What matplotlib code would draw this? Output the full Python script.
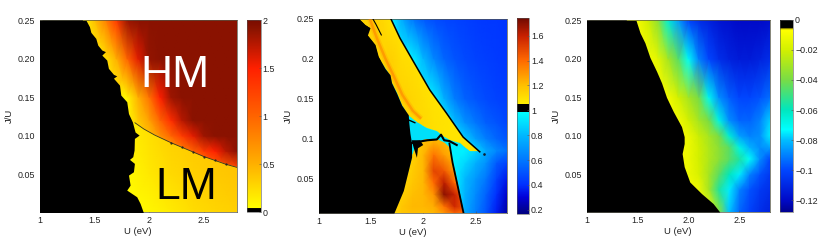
import numpy as np
import matplotlib
matplotlib.use('Agg')
import matplotlib.pyplot as plt
from matplotlib.cm import ScalarMappable
from matplotlib.colors import LinearSegmentedColormap, Normalize
from matplotlib.patches import Polygon

plt.rcParams['font.family'] = ['Liberation Sans', 'DejaVu Sans']
plt.rcParams['font.size'] = 6.4

W, H = 830, 240

# left panel: moment map
u1 = [1.4, 1.5, 1.6, 1.7, 1.8, 1.9, 2.0, 2.1, 2.2, 2.3, 2.4, 2.5, 2.6, 2.7, 2.8]
j1 = [0.0, 0.06, 0.08, 0.10, 0.12, 0.15, 0.20, 0.25]
hm1 = [
    [.1, .1, .1, .1, .1, .2, .3, .4, .5, .6, .7, .8, .9, 1.0, 1.1],
    [.1, .1, .1, .1, .1, .2, .3, .4, .5, .6, .7, .8, 1.0, 1.1, 1.25],
    [.1, .1, .1, .1, .1, .2, .3, .4, .5, .8, 1.0, 1.3, 1.5, 1.75, 1.92],
    [.1, .1, .1, .1, .1, .3, .4, .7, 1.0, 1.3, 1.6, 1.85, 1.92, 1.92, 1.92],
    [.1, .1, .1, .1, .1, .35, .6, 1.0, 1.4, 1.75, 1.92, 1.92, 1.92, 1.92, 1.92],
    [.1, .1, .1, .1, .1, .5, .9, 1.5, 1.85, 1.92, 1.92, 1.92, 1.92, 1.92, 1.92],
    [.1, .1, .2, .5, 1.0, 1.6, 1.88, 1.92, 1.92, 1.92, 1.92, 1.92, 1.92, 1.92, 1.92],
    [.1, .4, .8, 1.3, 1.85, 1.92, 1.92, 1.92, 1.92, 1.92, 1.92, 1.92, 1.92, 1.92, 1.92],
]
u1_lm = [1.8, 2.0, 2.2, 2.4, 2.6, 2.8]
j1_lm = [0.0, 0.05, 0.12]
lm1 = [
    [.06, .08, .16, .24, .28, .31],
    [.08, .17, .26, .31, .35, .38],
    [.12, .24, .33, .37, .39, .4],
]
line1_u = [1.87, 1.95, 2.05, 2.2, 2.3, 2.4, 2.5, 2.6, 2.7, 2.8]
line1_j = [.117, .109, .101, .091, .085, .079, .073, .068, .063, .059]
edge1_u = [1.425, 1.455, 1.468, 1.513, 1.531, 1.568, 1.601, 1.568, 1.613, 1.628, 1.674, 1.704, 1.674,
           1.729, 1.741, 1.795, 1.811, 1.847, 1.871, 1.908, 1.865, 1.862, 1.850, 1.820, 1.865, 1.856,
           1.811, 1.826, 1.795, 1.886, 1.917, 1.947]
edge1_j = [.25, .242, .2346, .2268, .218, .2116, .2095, .205, .1986, .1878, .18, .178, .175,
           .166, .153, .1444, .129, .118, .105, .101, .0967, .0815, .0729, .0694, .0642, .0533,
           .049, .036, .0295, .0208, .0121, .0]

# middle panel: ratio map
u2 = [1.6, 1.7, 1.8, 1.9, 2.0, 2.1, 2.2, 2.3, 2.4, 2.5, 2.6, 2.7, 2.8]
j2 = [.0068, .03, .05, .07, .085, .1, .12, .15, .2, .25]
blue2 = [
    [.95, .95, .95, .95, .95, .95, .95, .95, .75, .62, .5, .36, .22],
    [.95, .95, .95, .95, .95, .95, .95, .95, .78, .66, .54, .4, .28],
    [.95, .95, .95, .95, .95, .95, .95, .95, .8, .7, .6, .45, .35],
    [.95, .95, .95, .95, .95, .95, .95, .95, .88, .78, .68, .52, .45],
    [.95, .95, .95, .95, .95, .95, .95, .95, .95, .88, .75, .65, .58],
    [.95, .95, .95, .95, .95, .95, .95, .95, .85, .72, .62, .55, .5],
    [.95, .95, .95, .95, .95, .95, .95, .82, .68, .6, .53, .5, .46],
    [.95, .95, .95, .95, .95, .95, .78, .62, .54, .5, .47, .45, .44],
    [.95, .95, .95, .95, .8, .65, .55, .5, .47, .45, .44, .43, .42],
    [.95, .95, .75, .6, .52, .48, .46, .45, .44, .43, .42, .42, .41],
]
u2_band = [1.4, 1.5, 1.6, 1.7, 1.8, 1.9, 2.0, 2.1, 2.2, 2.3, 2.4, 2.5, 2.6]
j2_band = [.085, .12, .15, .2, .25]
band2 = [
    [1.11, 1.11, 1.11, 1.11, 1.11, 1.11, 1.11, 1.1, 1.09, 1.09, 1.09, 1.09, 1.09],
    [1.13, 1.13, 1.13, 1.13, 1.13, 1.13, 1.12, 1.1, 1.09, 1.08, 1.08, 1.08, 1.08],
    [1.14, 1.14, 1.14, 1.14, 1.15, 1.13, 1.11, 1.09, 1.08, 1.08, 1.08, 1.08, 1.08],
    [1.14, 1.14, 1.14, 1.15, 1.11, 1.1, 1.09, 1.08, 1.08, 1.08, 1.08, 1.08, 1.08],
    [1.14, 1.15, 1.13, 1.09, 1.09, 1.08, 1.08, 1.08, 1.08, 1.08, 1.08, 1.08, 1.08],
]
band2_u = [1.39, 1.444, 1.492, 1.467, 1.54, 1.571, 1.635, 1.683, 1.698, 1.746, 1.794, 1.857, 1.937, 2.032,
           2.127, 2.19, 2.254, 2.349, 2.413, 2.46, 2.54, 2.381, 2.222, 2.063, 1.905, 1.778, 1.692]
band2_j = [.25, .243, .239, .23, .218, .203, .188, .18, .17, .157, .142, .13, .121, .113,
           .109, .103, .098, .094, .088, .0835, .0835, .102, .132, .161, .197, .226, .25]
streak2_u = [1.49, 1.56, 1.64, 1.72, 1.8, 1.9, 1.98]
streak2_j = [.25, .225, .2, .178, .155, .135, .125]
u2_dome = [1.7, 1.8, 1.9, 2.0, 2.1, 2.2, 2.3, 2.4]
j2_dome = [.0068, .015, .03, .045, .06, .08, .1]
dome2 = [
    [1.12, 1.18, 1.2, 1.2, 1.22, 1.3, 1.42, 1.4],
    [1.12, 1.18, 1.22, 1.22, 1.24, 1.38, 1.58, 1.45],
    [1.12, 1.15, 1.2, 1.22, 1.3, 1.7, 1.6, 1.4],
    [1.12, 1.13, 1.18, 1.22, 1.4, 1.62, 1.4, 1.3],
    [1.12, 1.12, 1.16, 1.22, 1.5, 1.45, 1.28, 1.25],
    [1.12, 1.12, 1.14, 1.22, 1.38, 1.28, 1.2, 1.2],
    [1.12, 1.12, 1.12, 1.18, 1.2, 1.2, 1.15, 1.12],
]
dome2_u = [1.72, 1.81, 1.889, 1.93, 2.03, 2.13, 2.21, 2.25, 2.3, 2.385]
dome2_j = [.0068, .035, .077, .095, .1, .1, .095, .09, .06, .0068]
cyan2_u = [1.86, 1.937, 2.032, 2.127, 2.19, 2.1, 1.98, 1.89, 1.873]
cyan2_j = [.12, .121, .113, .109, .103, .1, .096, .095, .107]
edge2_u = [1.39, 1.444, 1.492, 1.467, 1.54, 1.571, 1.635, 1.683, 1.698, 1.746, 1.794, 1.857, 1.863, 1.873,
           1.889, 1.889, 1.81, 1.72]
edge2_j = [.25, .243, .239, .23, .218, .203, .188, .18, .17, .157, .142, .13, .119, .107,
           .094, .077, .035, .0068]
crack2_u = [1.52, 1.55, 1.6]
crack2_j = [.25, .243, .23]
wall2_u = [1.692, 1.778, 1.905, 2.063, 2.222, 2.381, 2.54]
wall2_j = [.25, .226, .197, .161, .132, .102, .0835]
seam2_u = [1.87, 1.95, 2.04, 2.13, 2.17, 2.2, 2.25, 2.32]
seam2_j = [.094, .096, .098, .099, .105, .098, .097, .092]
stub2_u = [1.85, 1.92]
stub2_j = [.124, .12]
right2_u = [2.25, 2.28, 2.33, 2.385]
right2_j = [.094, .07, .04, .0068]
blob2_u = [1.89, 1.97, 2.0, 1.95, 1.94, 1.91]
blob2_j = [.098, .098, .092, .088, .076, .088]
tip2_u = [2.585]
tip2_j = [.0805]

# right panel: energy map
u3 = [1.4, 1.5, 1.6, 1.7, 1.8, 1.9, 2.0, 2.1, 2.2, 2.3, 2.4, 2.5, 2.6, 2.7, 2.8]
j3 = [.0, .03, .05, .07, .085, .10, .12, .15, .20, .25]
en3 = [
    [-.01, -.01, -.01, -.01, -.01, -.01, -.01, -.01, -.01, -.035, -.08, -.095, -.102, -.108, -.112],
    [-.01, -.01, -.01, -.01, -.01, -.01, -.01, -.012, -.03, -.055, -.075, -.09, -.098, -.104, -.108],
    [-.01, -.01, -.01, -.01, -.01, -.01, -.012, -.018, -.03, -.045, -.06, -.075, -.09, -.098, -.105],
    [-.01, -.01, -.01, -.01, -.01, -.01, -.012, -.02, -.028, -.036, -.045, -.055, -.072, -.088, -.1],
    [-.01, -.01, -.01, -.01, -.01, -.01, -.012, -.02, -.028, -.036, -.045, -.068, -.082, -.088, -.085],
    [-.01, -.01, -.01, -.01, -.01, -.01, -.012, -.022, -.03, -.04, -.065, -.085, -.09, -.088, -.075],
    [-.01, -.01, -.01, -.01, -.01, -.01, -.02, -.03, -.04, -.068, -.088, -.095, -.095, -.09, -.078],
    [-.01, -.01, -.01, -.01, -.01, -.02, -.03, -.04, -.07, -.088, -.096, -.1, -.1, -.098, -.093],
    [-.01, -.01, -.01, -.015, -.03, -.045, -.072, -.09, -.1, -.108, -.112, -.114, -.114, -.112, -.108],
    [-.01, -.01, -.02, -.035, -.065, -.085, -.1, -.108, -.112, -.116, -.118, -.12, -.12, -.12, -.118],
]
edge3_u = [1.486, 1.525, 1.573, 1.622, 1.687, 1.736, 1.785, 1.85, 1.932, 1.958, 1.958, 1.938, 1.958,
           2.013, 2.128, 2.242, 2.307]
edge3_j = [.25, .234, .221, .202, .184, .169, .15, .132, .112, .099, .09, .077, .06, .04, .025, .012, .001]

tick_u = [1, 1.5, 2, 2.5]
labels_u3 = ['1', '1.5', '2.0', '2.5']
ticks_j1 = [.05, .10, .15, .20, .25]
labels_j1 = ['0.05', '0.10', '0.15', '0.20', '0.25']
labels_j2 = ['0.05', '0.1', '0.15', '0.2', '0.25']
cbar1_ticks = [0, .5, 1, 1.5, 2]
cbar1_labels = ['0', '0.5', '1', '1.5', '2']
cbar2_ticks = [.2, .4, .6, .8, 1, 1.2, 1.4, 1.6]
cbar2_labels = ['0.2', '0.4', '0.6', '0.8', '1', '1.2', '1.4', '1.6']
cbar3_ticks = [-.12, -.1, -.08, -.06, -.04, -.02, 0]
cbar3_labels = ['\u22120.12', '\u22120.1', '\u22120.08', '\u22120.06', '\u22120.04', '\u22120.02', '0']


def make_cmap(stops, vmin, vmax):
    pairs = [((v - vmin) / (vmax - vmin), c) for v, c in stops]
    return LinearSegmentedColormap.from_list('m', pairs, N=512)


cmap1 = make_cmap([(0, '#000000'), (.035, '#000000'), (.04, '#ffff00'), (.5, '#ffb000'), (1, '#ff6400'),
                   (1.5, '#ff2000'), (1.75, '#b81800'), (1.9, '#8e1400'), (2, '#7a0c00')], 0, 2)
cmap2 = make_cmap([(.17, '#000080'), (.3, '#0000d8'), (.4, '#0030ff'), (.6, '#0078ff'), (.8, '#00b8ff'),
                   (.985, '#00ffff'), (.987, '#000000'), (1.054, '#000000'), (1.056, '#ffee00'),
                   (1.2, '#ffc000'), (1.4, '#ff6a00'), (1.6, '#c82000'), (1.743, '#700a00')], .17, 1.743)
cmap3 = make_cmap([(-.128, '#000090'), (-.12, '#000ac8'), (-.1, '#0046ff'), (-.08, '#00beff'), (-.073, '#00ffff'),
                   (-.06, '#00e6be'), (-.04, '#78dc46'), (-.02, '#d2f000'), (-.0065, '#ffff00'),
                   (-.0055, '#8a8000'), (-.005, '#000000'), (0, '#000000')], -.128, 0)
norm1 = Normalize(0, 2)
norm2 = Normalize(.17, 1.743)
norm3 = Normalize(-.128, 0)


def axes_px(fig, x0, x1, y0, y1):
    return fig.add_axes([x0 / W, 1 - y1 / H, (x1 - x0) / W, (y1 - y0) / H])


def style(ax, ylim, xt, xl, yt, yl):
    ax.set_xlim(1, 2.8)
    ax.set_ylim(*ylim)
    ax.set_xticks(xt, xl)
    ax.set_yticks(yt, yl)
    ax.tick_params(direction='in', length=1.5, width=.4, color='#555555', pad=3, labelcolor='#222222')
    ax.set_xlabel('U (eV)', fontsize=6.8, labelpad=1.5, color='#222222')
    ax.set_ylabel('J/U', fontsize=6.8, labelpad=3, color='#222222')
    for s in ax.spines.values():
        s.set_linewidth(.5)
        s.set_color('#555544')


def add_cbar(fig, box, cmap, norm, ticks, labels):
    cax = axes_px(fig, *box)
    cb = fig.colorbar(ScalarMappable(norm=norm, cmap=cmap), cax=cax)
    cb.set_ticks(ticks, labels=labels)
    cb.ax.tick_params(length=1.5, width=.4, color='#555555', direction='in', pad=1.5, labelcolor='#222222')
    cb.outline.set_linewidth(.4)
    cb.outline.set_edgecolor('#555555')
    return cb


def clipped_mesh(ax, x, y, z, cmap, norm, poly_u, poly_j):
    mesh = ax.pcolormesh(x, y, z, cmap=cmap, norm=norm, shading='gouraud', zorder=2)
    mesh.set_clip_path(Polygon(np.column_stack([poly_u, poly_j]), transform=ax.transData))


fig = plt.figure(figsize=(W / 100, H / 100), dpi=100)

# left panel
ax = axes_px(fig, 39.5, 237, 20.5, 212)
ax.set_facecolor('black')
ax.pcolormesh(u1, j1, hm1, cmap=cmap1, norm=norm1, shading='gouraud', zorder=1)
clipped_mesh(ax, u1_lm, j1_lm, lm1, cmap1, norm1,
             line1_u + [2.8, 1.8, 1.8], line1_j + [0, 0, .117])
ax.plot(line1_u, line1_j, color='#333322', lw=.6, zorder=3)
ax.plot(line1_u[3:9], line1_j[3:9], ls='none', marker='.', ms=1.2, color='#222222', zorder=3)
ax.fill_betweenx(edge1_j, 1, edge1_u, color='black', lw=0, zorder=4)
style(ax, (.001, .25), tick_u, ['1', '1.5', '2', '2.5'], ticks_j1, labels_j1)
ax.text(2.23, .1785, 'HM', color='white', fontsize=32, ha='center', va='center', zorder=5)
ax.text(2.34, .0325, 'LM', color='black', fontsize=32, ha='center', va='center', zorder=5)
add_cbar(fig, (246.5, 260.5, 20.5, 212), cmap1, norm1, cbar1_ticks, cbar1_labels)

# middle panel
ax = axes_px(fig, 318.5, 507, 19, 213)
ax.set_facecolor('black')
ax.pcolormesh(u2, j2, blue2, cmap=cmap2, norm=norm2, shading='gouraud', zorder=1)
ax.fill(cyan2_u, cyan2_j, color='#00e0fa', lw=0, zorder=2)
clipped_mesh(ax, u2_band, j2_band, band2, cmap2, norm2, band2_u, band2_j)
clipped_mesh(ax, u2_dome, j2_dome, dome2, cmap2, norm2, dome2_u, dome2_j)
ax.plot(streak2_u, streak2_j, color='#ff9a00', lw=4, alpha=.3, solid_capstyle='butt', zorder=3)
ax.plot(streak2_u, streak2_j, color='#ff7000', lw=1.8, alpha=.45, solid_capstyle='butt', zorder=3)
ax.fill_betweenx(edge2_j, 1, edge2_u, color='black', lw=0, zorder=4)
ax.plot(wall2_u, wall2_j, color='black', lw=1.1, zorder=5)
ax.plot(seam2_u, seam2_j, color='black', lw=1.5, zorder=5)
ax.plot(stub2_u, stub2_j, color='black', lw=1.0, zorder=5)
ax.plot(right2_u, right2_j, color='black', lw=1.3, zorder=5)
ax.plot(crack2_u, crack2_j, color='black', lw=.8, zorder=5)
ax.plot(tip2_u, tip2_j, ls='none', marker='.', ms=1.8, color='#102030', zorder=5)
ax.fill(blob2_u, blob2_j, color='black', lw=0, zorder=5)
style(ax, (.0068, .25), tick_u, ['1', '1.5', '2', '2.5'], ticks_j1, labels_j2)
add_cbar(fig, (516.5, 529, 18, 213.5), cmap2, norm2, cbar2_ticks, cbar2_labels)

# right panel
ax = axes_px(fig, 586.5, 770, 20.5, 212)
ax.set_facecolor('black')
ax.pcolormesh(u3, j3, en3, cmap=cmap3, norm=norm3, shading='gouraud', zorder=1)
ax.fill_betweenx(edge3_j, 1, edge3_u, color='black', lw=0, zorder=4)
style(ax, (.001, .25), tick_u, labels_u3, ticks_j1, labels_j1)
add_cbar(fig, (780, 793, 20, 212), cmap3, norm3, cbar3_ticks, cbar3_labels)

fig.savefig('out.png', dpi=100)
